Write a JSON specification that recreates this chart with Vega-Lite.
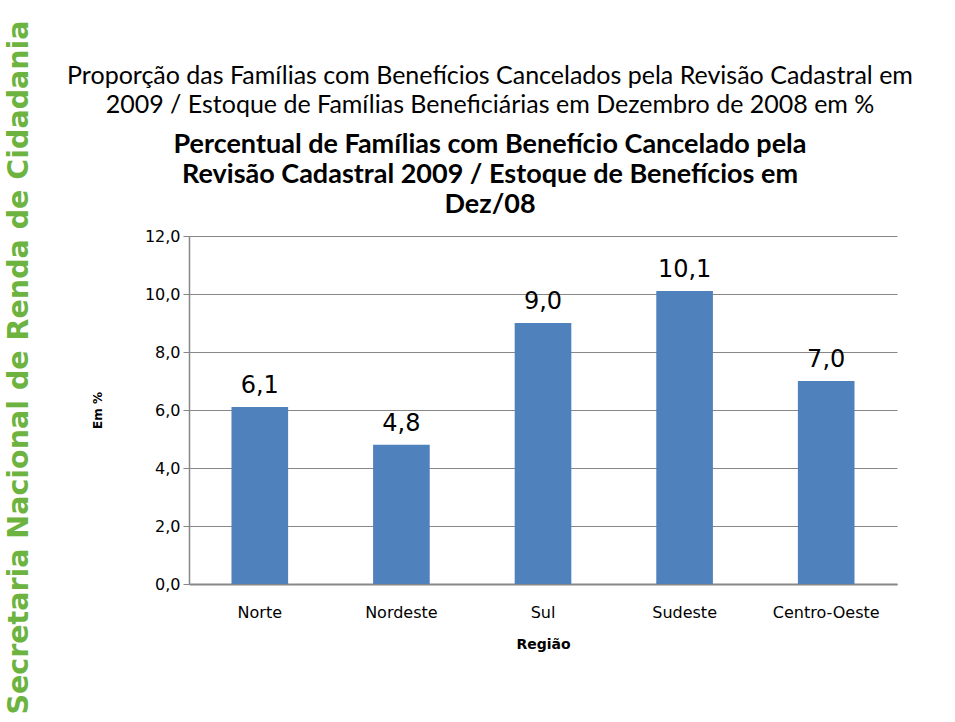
{
  "$schema": "https://vega.github.io/schema/vega-lite/v6.json",
  "width": 708,
  "height": 348,
  "autosize": {"type": "none"},
  "padding": {"left": 189, "top": 236, "right": 58, "bottom": 138},
  "background": "white",
  "config": {
    "locale": {"number": {"decimal": ",", "thousands": ".", "grouping": [3], "currency": ["R$", ""]}},
    "view": {"stroke": null},
    "font": "Lato"
  },
  "title": {
    "text": ["Proporção das Famílias com Benefícios Cancelados pela Revisão Cadastral em", "2009 / Estoque de Famílias Beneficiárias em Dezembro de 2008 em %"],
    "subtitle": ["Percentual de Famílias com Benefício Cancelado pela", "Revisão Cadastral 2009 / Estoque de Benefícios em", "Dez/08"],
    "font": "Lato",
    "fontSize": 25,
    "fontWeight": "normal",
    "lineHeight": 29,
    "color": "black",
    "subtitleFont": "Lato",
    "subtitleFontSize": 27,
    "subtitleFontWeight": "bold",
    "subtitleLineHeight": 30,
    "subtitleColor": "black",
    "subtitlePadding": 14,
    "anchor": "middle",
    "dx": -53,
    "offset": -198
  },
  "data": {
    "values": [
      {"regiao": "Norte", "v": 6.1},
      {"regiao": "Nordeste", "v": 4.8},
      {"regiao": "Sul", "v": 9.0},
      {"regiao": "Sudeste", "v": 10.1},
      {"regiao": "Centro-Oeste", "v": 7.0}
    ]
  },
  "encoding": {
    "x": {
      "field": "regiao",
      "type": "nominal",
      "sort": null,
      "scale": {"paddingInner": 0.6, "paddingOuter": 0.3},
      "axis": {
        "labelAngle": 0,
        "labelFont": "DejaVu Sans",
        "labelFontSize": 16,
        "labelColor": "black",
        "labelPadding": 20,
        "ticks": false,
        "domainColor": "#878787",
        "domainWidth": 2,
        "title": "Região",
        "titleFont": "DejaVu Sans",
        "titleFontSize": 14,
        "titleFontWeight": "bold",
        "titleColor": "black",
        "titlePadding": 17
      }
    }
  },
  "layer": [
    {
      "mark": {"type": "bar", "color": "#4F81BD"},
      "encoding": {
        "y": {
          "field": "v",
          "type": "quantitative",
          "scale": {"domain": [0, 12], "nice": false},
          "axis": {
            "values": [0, 2, 4, 6, 8, 10, 12],
            "format": ".1f",
            "grid": true,
            "gridColor": "#878787",
            "domainColor": "#878787",
            "domainWidth": 1.5,
            "tickColor": "#878787",
            "tickSize": 6,
            "labelFont": "DejaVu Sans",
            "labelFontSize": 16,
            "labelColor": "black",
            "labelPadding": 3,
            "title": "Em %",
            "titleFont": "DejaVu Sans",
            "titleFontSize": 12,
            "titleFontWeight": "bold",
            "titleColor": "black",
            "titlePadding": 40
          }
        }
      }
    },
    {
      "mark": {"type": "text", "baseline": "bottom", "dy": -9, "fontSize": 24, "font": "DejaVu Sans", "color": "black"},
      "encoding": {
        "y": {
          "field": "v",
          "type": "quantitative",
          "scale": {"domain": [0, 12], "nice": false},
          "axis": {
            "orient": "left",
            "domain": false,
            "ticks": false,
            "labels": false,
            "grid": false,
            "title": "Secretaria Nacional de Renda de Cidadania",
            "titleFont": "DejaVu Sans",
            "titleFontWeight": "bold",
            "titleFontSize": 28.5,
            "titleColor": "#6cb33f",
            "titleX": -171,
            "titleY": 131,
            "titleAngle": -90,
            "titleAlign": "center",
            "titleBaseline": "middle"
          }
        },
        "text": {"field": "v", "type": "quantitative", "format": ".1f"}
      }
    }
  ],
  "resolve": {"scale": {"y": "independent"}, "axis": {"y": "independent"}}
}
